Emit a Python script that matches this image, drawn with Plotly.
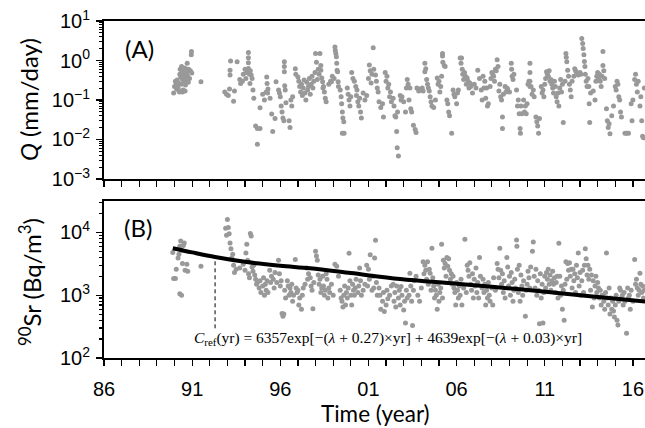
import plotly.graph_objects as go

# ---------------- DATA ----------------
# Panel A: discharge Q (mm/day)
q_year = [
 1989.95, 1990.00, 1990.05, 1990.10, 1990.12, 1990.15, 1990.20, 1990.22, 1990.25, 1990.30,
 1990.32, 1990.35, 1990.38, 1990.40, 1990.42, 1990.45, 1990.48, 1990.50, 1990.52, 1990.55,
 1990.58, 1990.60, 1990.62, 1990.65, 1990.68, 1990.70, 1990.72, 1990.75, 1990.78, 1990.80,
 1990.85, 1990.90, 1990.95, 1990.96, 1990.98, 1991.50, 1990.28, 1990.45, 1990.60, 1990.15,
 1992.85, 1992.95, 1993.05, 1993.15, 1993.15, 1993.18, 1993.12, 1993.35, 1993.40, 1993.55,
 1993.70, 1993.75, 1993.85, 1993.90, 1994.00, 1994.05, 1994.10, 1994.19, 1994.19, 1994.19,
 1994.19, 1994.25, 1994.28, 1994.30, 1994.35, 1994.40, 1994.45, 1994.50, 1994.60, 1994.70,
 1994.85, 1994.70, 1994.85, 1995.00, 1995.10, 1995.20, 1995.23, 1995.25, 1995.30, 1995.28,
 1995.42, 1995.51, 1995.57, 1995.70, 1995.76, 1995.90, 1995.95, 1996.00, 1996.05, 1996.10,
 1996.15, 1996.20, 1996.23, 1996.23, 1996.23, 1996.25, 1996.28, 1996.32, 1996.50, 1996.55,
 1996.60, 1996.65, 1996.70, 1996.85, 1996.88, 1997.00, 1997.05, 1997.10, 1997.15, 1997.20,
 1997.25, 1997.30, 1997.35, 1997.40, 1997.45, 1997.50, 1997.55, 1997.60, 1997.65, 1997.70,
 1997.75, 1997.80, 1997.85, 1997.90, 1997.97, 1998.00, 1998.05, 1998.10, 1998.15, 1998.20,
 1998.25, 1998.30, 1998.35, 1998.40, 1998.45, 1998.50, 1998.55, 1998.60, 1998.30, 1998.42,
 1998.75, 1998.85, 1998.90, 1998.95, 1999.05, 1999.10, 1999.12, 1999.15, 1999.18, 1999.20,
 1999.22, 1999.25, 1999.28, 1999.30, 1999.40, 1999.45, 1999.48, 1999.52, 1999.55, 1999.60,
 1999.52, 1999.62, 1999.80, 1999.85, 1999.90, 1999.95, 2000.00, 2000.05, 2000.12, 2000.20,
 2000.28, 2000.32, 2000.35, 2000.40, 2000.45, 2000.50, 2000.55, 2000.60, 2000.70, 2000.80,
 2000.90, 2001.00, 2001.05, 2001.10, 2001.15, 2001.20, 2001.27, 2001.30, 2001.40, 2001.45,
 2001.50, 2001.55, 2001.60, 2001.70, 2001.80, 2001.85,
 2001.95, 2002.00, 2002.05, 2002.10, 2002.15, 2002.20, 2002.25, 2002.30, 2002.40, 2002.45,
 2002.50, 2002.55, 2002.60, 2002.63, 2002.70, 2002.65, 2002.80, 2002.85, 2002.90, 2003.00,
 2003.10, 2003.15, 2003.20, 2003.25, 2003.30, 2003.35, 2003.40, 2003.45, 2003.55, 2003.65,
 2003.70, 2003.75, 2003.85, 2003.95, 2004.05, 2004.10, 2004.20, 2004.20, 2004.25, 2004.30,
 2004.35, 2004.40, 2004.45, 2004.50, 2004.55, 2004.60, 2004.70, 2004.80, 2004.90, 2004.95,
 2005.00, 2005.05, 2005.10, 2005.15, 2005.20, 2005.20, 2005.22, 2005.30, 2005.35, 2005.45,
 2005.50, 2005.55, 2005.60, 2005.72, 2005.80, 2005.85, 2005.90, 2006.00, 2006.05, 2006.10,
 2006.20, 2006.25, 2006.28, 2006.32, 2006.35, 2006.40, 2006.45, 2006.50, 2006.55, 2006.60,
 2006.65, 2006.70, 2006.75, 2006.80, 2006.90, 2007.00, 2007.10, 2007.20, 2007.30, 2007.40,
 2007.45, 2007.50, 2007.55, 2007.60, 2007.65, 2007.70, 2007.75, 2007.80, 2007.90, 2007.95,
 2008.00, 2008.05, 2008.10, 2008.15, 2008.20, 2008.25, 2008.30, 2008.35, 2008.40, 2008.45,
 2008.50, 2008.55, 2008.60, 2008.60, 2008.65, 2008.75, 2008.80, 2008.85, 2008.90, 2009.00,
 2009.10, 2009.12, 2009.15, 2009.20, 2009.25, 2009.40, 2009.45, 2009.50, 2009.55, 2009.60,
 2009.62, 2009.65, 2009.70, 2009.80, 2009.85, 2009.90, 2009.95, 2010.00, 2010.05, 2010.10,
 2010.16, 2010.16, 2010.16, 2010.16, 2010.22, 2010.28, 2010.35, 2010.40, 2010.50, 2010.55,
 2010.60, 2010.65, 2010.70, 2010.80, 2010.85, 2010.90, 2010.95, 2011.00, 2011.05, 2011.10,
 2011.15, 2011.20, 2011.25, 2011.30, 2011.35, 2011.40, 2011.45, 2011.50, 2011.55, 2011.60,
 2011.65, 2011.70, 2011.75, 2011.80, 2011.85, 2011.90, 2011.95, 2012.00, 2012.05,
 2012.15, 2012.20, 2012.22, 2012.25, 2012.30, 2012.35, 2012.40, 2012.45, 2012.50, 2012.55,
 2012.65, 2012.70, 2012.75, 2012.80, 2012.90, 2013.00, 2013.05, 2013.10, 2013.15, 2013.18,
 2013.22, 2013.25, 2013.28, 2013.30, 2013.35, 2013.40, 2013.45, 2013.50, 2013.52, 2013.55,
 2013.60, 2013.75, 2013.85, 2013.90, 2013.95, 2014.00, 2014.05, 2014.10, 2014.15, 2014.20,
 2014.25, 2014.30, 2014.30, 2014.35, 2014.40, 2014.50, 2014.55, 2014.60, 2014.65, 2014.70,
 2014.80, 2014.90, 2015.00, 2015.05, 2015.10, 2015.15, 2015.20, 2015.25, 2015.30, 2015.35,
 2015.55, 2015.65, 2015.75, 2015.90, 2015.95, 2016.00, 2016.10, 2016.15, 2016.20, 2016.25,
 2016.30, 2016.40, 2016.45, 2016.50, 2016.55, 2016.60, 2016.65,
]
q_value = [
 0.15, 0.22, 0.30, 0.26, 0.19, 0.32, 0.20, 0.27, 0.17, 0.45,
 0.60, 0.38, 0.25, 0.70, 0.50, 0.33, 0.18, 0.42, 0.55, 0.30,
 0.65, 0.38, 0.24, 0.45, 0.33, 0.50, 0.85, 0.40, 0.28, 0.60,
 0.35, 0.55, 1.40, 1.70, 0.48, 0.29, 0.16, 0.16, 0.17, 0.24,
 0.16, 0.14, 0.13, 0.57, 0.43, 0.97, 0.19, 0.093, 0.17, 0.93,
 0.33, 0.26, 0.30, 0.45, 0.60, 0.35, 0.50, 1.60, 1.18, 0.88,
 0.63, 0.45, 0.26, 0.55, 0.43, 0.35, 0.18, 0.11, 0.022, 0.019,
 0.019, 0.0076, 0.064, 0.14, 0.10, 0.16, 0.38, 0.26, 0.19, 0.15,
 0.11, 0.044, 0.016, 0.034, 0.29, 0.18, 0.15, 0.12, 0.07, 0.05,
 0.035, 0.030, 0.93, 0.70, 0.52, 0.23, 0.18, 0.085, 0.030, 0.020,
 0.10, 0.07, 0.12, 0.62, 0.45, 0.38, 0.30, 0.22, 0.16, 0.25,
 0.13, 0.20, 0.32, 0.15, 0.10, 0.28, 0.18, 0.22, 0.35, 0.14,
 0.25, 0.40, 0.20, 0.30, 0.50, 1.50, 0.90, 0.33, 0.60, 0.45,
 1.50, 0.57, 0.36, 0.29, 0.22, 0.16, 0.11, 0.09, 0.75, 0.20,
 0.25, 0.30, 0.29, 0.40, 0.35, 2.20, 1.80, 1.50, 1.25, 0.85,
 0.57, 0.52, 0.29, 0.22, 0.18, 0.12, 0.08, 0.05, 0.035, 0.028,
 0.0143, 0.0143, 0.20, 0.14, 0.10, 0.07, 0.12, 0.50, 0.35, 0.30,
 0.22, 0.13, 0.18, 0.09, 0.07, 0.11, 0.05, 0.035, 0.15, 0.10,
 0.13, 0.35, 0.77, 0.55, 0.27, 0.45, 2.10, 0.60, 0.43, 0.30,
 0.20, 0.16, 0.09, 0.065, 0.08, 0.037,
 0.50, 0.30, 0.40, 0.20, 0.25, 0.12, 0.16, 0.09, 0.11, 0.07,
 0.04, 0.037, 0.016, 0.0062, 0.0038, 0.05, 0.13, 0.10, 0.12, 0.09,
 0.05, 0.20, 0.33, 0.25, 0.10, 0.20, 0.06, 0.05, 0.023, 0.018,
 0.015, 0.20, 0.17, 0.19, 0.20, 0.17, 0.85, 0.52, 0.62, 0.33,
 0.25, 0.20, 0.17, 0.12, 0.09, 0.07, 0.065, 0.10, 0.36, 0.25,
 0.30, 0.16, 0.22, 0.40, 1.50, 1.30, 0.90, 0.75, 0.70, 0.10,
 0.08, 0.05, 0.04, 0.0143, 0.18, 0.14, 0.12, 0.08, 0.15, 0.18,
 1.15, 0.85, 1.15, 0.60, 0.45, 0.33, 0.50, 0.40, 0.25, 0.36,
 0.30, 0.20, 0.27, 0.22, 0.15, 0.25, 0.20, 0.57, 0.35, 0.18,
 0.10, 0.40, 0.20, 0.30, 0.11, 0.20, 0.07, 0.08, 0.22, 0.35,
 0.50, 0.45, 0.40, 0.30, 0.60, 0.55, 1.05, 0.70, 0.17, 0.25,
 0.12, 0.10, 0.037, 0.019, 0.14, 0.22, 0.16, 0.20, 0.19, 0.16,
 0.85, 0.60, 0.40, 0.33, 0.45, 0.18, 0.07, 0.10, 0.045, 0.019,
 0.0143, 0.07, 0.045, 0.10, 0.05, 0.07, 0.045, 0.08, 0.25, 0.30,
 0.85, 0.50, 0.30, 0.22, 0.22, 0.14, 0.18, 0.12, 0.037, 0.028,
 0.022, 0.0143, 0.034, 0.22, 0.15, 0.18, 0.12, 0.25, 0.35, 0.52,
 0.45, 0.40, 0.55, 0.30, 0.33, 0.25, 0.20, 0.15, 0.30, 0.22,
 0.12, 0.09, 0.15, 0.07, 0.20, 0.33, 0.16, 0.25, 0.027,
 0.30, 1.50, 1.20, 0.93, 0.57, 0.40, 0.25, 0.18, 0.12, 0.30,
 0.40, 0.62, 0.55, 0.50, 0.43, 0.50, 0.45, 3.60, 2.70, 2.00,
 1.40, 0.95, 0.70, 0.45, 0.30, 0.22, 0.35, 0.22, 0.08, 0.027,
 0.15, 0.17, 0.10, 0.30, 0.40, 0.50, 0.35, 0.45, 0.30, 0.22,
 0.40, 1.70, 0.75, 0.55, 0.35, 0.06, 0.03, 0.02, 0.025, 0.014,
 0.04, 0.07, 0.22, 0.18, 0.30, 0.25, 0.12, 0.10, 0.05, 0.037,
 0.0143, 0.0143, 0.0143, 0.08, 0.03, 0.10, 0.33, 0.45, 0.25, 0.16,
 0.30, 0.07, 0.12, 0.03, 0.012, 0.011, 0.20,
]

# Panel B: 90Sr concentration (Bq/m3)
sr_year = [
 1989.90, 1989.95, 1990.05, 1990.10, 1990.20, 1990.30, 1990.35, 1990.40, 1990.45, 1990.50,
 1990.30, 1990.40, 1990.60, 1990.75, 1990.70, 1991.50, 1990.25, 1990.55,
 1992.90, 1992.95, 1993.00, 1993.05, 1993.10, 1993.15, 1993.20, 1993.30, 1993.25, 1993.35,
 1993.40, 1993.50, 1993.70, 1993.90, 1994.00, 1994.05, 1994.10, 1994.15, 1994.20, 1994.25,
 1994.30, 1994.35, 1994.40, 1994.45, 1994.50, 1994.55, 1994.60, 1994.65, 1994.70, 1994.80,
 1994.85, 1994.90, 1995.00, 1995.05, 1995.10, 1995.15, 1995.20, 1995.25, 1995.30, 1995.40,
 1995.45, 1995.50, 1995.60, 1995.65, 1995.70, 1995.80, 1995.90, 1995.95, 1996.00, 1996.05,
 1996.10, 1996.15, 1996.20, 1996.25, 1996.30, 1996.40, 1996.45, 1996.50, 1996.55, 1996.60,
 1996.65, 1996.70, 1996.75, 1996.85, 1996.90, 1996.95, 1997.00, 1997.05, 1997.10, 1997.20,
 1997.25, 1997.30, 1997.40, 1997.50, 1997.55, 1997.60, 1997.70, 1997.75, 1997.80, 1997.85,
 1997.90, 1998.00, 1998.05, 1998.10, 1998.15, 1998.20, 1998.25, 1998.30, 1998.35, 1998.40,
 1998.45, 1998.50, 1998.55, 1998.60, 1998.65, 1998.70, 1998.75, 1998.80, 1998.90, 1999.00,
 1999.10, 1999.20, 1999.30, 1999.40, 1999.45, 1999.50, 1999.55, 1999.60, 1999.65, 1999.70,
 1999.75, 1999.80, 1999.85, 1999.90, 1999.95, 2000.00, 2000.05, 2000.10, 2000.15, 2000.20,
 2000.25, 2000.30, 2000.40, 2000.45, 2000.50, 2000.55, 2000.60, 2000.70, 2000.80, 2000.90,
 2000.95, 2001.00, 2001.05, 2001.10, 2001.20, 2001.25, 2001.30, 2001.35, 2001.40, 2001.45,
 2001.50, 2001.60, 2001.65, 2001.70, 2001.80, 2001.85, 2001.90, 2002.00, 2002.05, 2002.10,
 2002.20, 2002.30, 2002.40, 2002.45, 2002.50, 2002.55, 2002.60, 2002.70, 2002.75, 2002.80,
 2002.85, 2002.90, 2003.00, 2003.05, 2003.10, 2003.15, 2003.20, 2003.30, 2003.35, 2003.40,
 2003.45, 2003.50, 2003.55, 2003.60, 2003.70, 2003.80, 2003.90, 2004.00, 2004.10, 2004.15,
 2004.20, 2004.25, 2004.30, 2004.35, 2004.40, 2004.45, 2004.50, 2004.55, 2004.60, 2004.65,
 2004.70, 2004.75, 2004.80, 2004.85, 2004.90, 2004.95, 2005.00, 2005.05, 2005.10, 2005.15,
 2005.20, 2005.25, 2005.30, 2005.35, 2005.40, 2005.45, 2005.50, 2005.55, 2005.60, 2005.65,
 2005.70, 2005.75, 2005.80, 2005.85, 2005.90, 2005.95, 2006.00, 2006.05, 2006.10, 2006.15,
 2006.20, 2006.25, 2006.30, 2006.40, 2006.47, 2006.55, 2006.60, 2006.65, 2006.70, 2006.75,
 2006.80, 2006.85, 2006.90, 2006.95, 2007.00, 2007.05, 2007.10, 2007.15, 2007.20, 2007.25,
 2007.30, 2007.35, 2007.45, 2007.50, 2007.55, 2007.60, 2007.65, 2007.70, 2007.75, 2007.80,
 2007.85, 2007.90, 2008.00, 2008.05, 2008.10, 2008.20, 2008.30, 2008.35, 2008.40, 2008.45,
 2008.50, 2008.55, 2008.60, 2008.65, 2008.70, 2008.75, 2008.85, 2008.90, 2008.95, 2009.00,
 2009.05, 2009.10, 2009.15, 2009.20, 2009.25, 2009.30, 2009.35, 2009.40, 2009.42, 2009.45,
 2009.50, 2009.55, 2009.60, 2009.65, 2009.70, 2009.75, 2009.80, 2009.90, 2009.95, 2010.00,
 2010.05, 2010.10, 2010.15, 2010.20, 2010.30, 2010.35, 2010.40, 2010.45, 2010.50, 2010.55,
 2010.60, 2010.65, 2010.70, 2010.75, 2010.80, 2010.85, 2010.90, 2010.95, 2011.00, 2011.05,
 2011.10, 2011.15, 2011.20, 2011.25, 2011.30, 2011.35, 2011.40, 2011.45, 2011.50, 2011.55,
 2011.60, 2011.65, 2011.70, 2011.75, 2011.80, 2011.85, 2011.90, 2011.95, 2012.00, 2012.05,
 2012.10, 2012.15, 2012.20, 2012.25, 2012.30, 2012.35, 2012.40, 2012.45, 2012.50, 2012.55,
 2012.60, 2012.65, 2012.70, 2012.75, 2012.80, 2012.85, 2012.90, 2012.95, 2013.00, 2013.05,
 2013.10, 2013.15, 2013.20, 2013.25, 2013.30, 2013.35, 2013.40, 2013.45, 2013.50, 2013.55,
 2013.60, 2013.65, 2013.70, 2013.75, 2013.80, 2013.85, 2013.90, 2013.95, 2014.00, 2014.05,
 2014.10, 2014.15, 2014.20, 2014.25, 2014.30, 2014.35, 2014.40, 2014.45, 2014.50, 2014.55,
 2014.60, 2014.65, 2014.70, 2014.75, 2014.80, 2014.85, 2014.90, 2014.95, 2015.00, 2015.05,
 2015.10, 2015.15, 2015.20, 2015.25, 2015.30, 2015.35, 2015.40, 2015.45, 2015.50, 2015.55,
 2015.64, 2015.70, 2015.75, 2015.80, 2015.85, 2015.90, 2016.00, 2016.10, 2016.15, 2016.20,
 2016.25, 2016.30, 2016.35, 2016.40, 2016.45, 2016.50, 2016.55, 2016.60, 2016.65,
]
sr_value = [
 4800, 1850, 1850, 2600, 3900, 6000, 7300, 5200, 3200, 6200,
 1050, 1000, 2500, 2400, 3100, 2900, 4500, 6800,
 11600, 9000, 16000, 12000, 9500, 6800, 5500, 4500, 3900, 3000,
 2300, 2600, 2700, 3100, 2500, 4700, 6500, 3600, 2200, 1900,
 9600, 8800, 2800, 2400, 3000, 2100, 1800, 1500, 1600, 1300,
 1700, 1100, 1400, 1900, 1000, 1500, 1200, 1700, 1100, 2500,
 1600, 2000, 1800, 1300, 2300, 1600, 3600, 2200, 1400, 1700,
 510, 460, 500, 1200, 900, 1700, 1400, 1000, 1300, 1100,
 1500, 800, 1000, 3700, 1300, 1100, 1200, 700, 900, 600,
 1000, 1300, 1500, 2700, 1800, 2200, 1900, 1400, 1200, 610,
 1600, 5000, 4200, 3600, 2100, 1500, 1800, 1100, 1300, 2000,
 1400, 1000, 1200, 2200, 1800, 900, 1300, 1100, 1500, 1000,
 3100, 2900, 2000, 1200, 900, 800, 650, 1000, 1400, 700,
 1100, 900, 1300, 4660, 1700, 1000, 700, 1500, 1200, 1000,
 1300, 1800, 1100, 1400, 2700, 1700, 1000, 1200, 1500, 3000,
 1400, 2600, 1800, 4400, 1200, 2000, 1300, 3900, 7500, 1600,
 1000, 1300, 1000, 600, 800, 1100, 550, 700, 1200, 880,
 1000, 1400, 1500, 800, 1100, 650, 1400, 900, 1200, 700,
 1370, 1000, 580, 800, 360, 1200, 900, 1000, 2230, 1400,
 800, 330, 1200, 1700, 2000, 1000, 800, 1300, 3400, 2200,
 3000, 2500, 1800, 3400, 1500, 2600, 2230, 1200, 5570, 1900,
 1400, 900, 1200, 1000, 600, 1500, 800, 1100, 1300, 6500,
 900, 3600, 2700, 3200, 2000, 4000, 2900, 3800, 2500, 1800,
 2200, 1500, 2000, 1300, 1100, 700, 1600, 1200, 900, 1400,
 1000, 1800, 700, 1300, 7800, 1100, 3000, 2500, 2000, 3300,
 1500, 1200, 2200, 900, 1800, 1400, 2700, 1100, 1600, 900,
 4000, 2000, 1300, 1800, 1100, 1500, 700, 1200, 900, 1600,
 1000, 800, 1300, 700, 1900, 1200, 3200, 2600, 1900, 5570,
 2500, 1500, 2200, 1100, 1700, 900, 4000, 2800, 1400, 2000,
 1000, 2300, 1600, 800, 1200, 1800, 1300, 7600, 6000, 2600,
 1100, 3000, 800, 2100, 1400, 1000, 1700, 460, 1200, 1500,
 2400, 1900, 1300, 2800, 5000, 7000, 2000, 1300, 2600, 1000,
 1700, 1200, 350, 2200, 900, 1500, 360, 1100, 2000, 1300,
 2300, 1800, 2600, 1500, 2100, 1200, 1700, 2400, 1500, 1900,
 1100, 1600, 2000, 900, 6700, 2000, 1000, 1400, 600, 1200,
 400, 1500, 3400, 1800, 3200, 2500, 3300, 2000, 2600, 1300,
 2600, 1700, 2200, 1100, 3000, 1900, 4700, 1400, 2300, 1000,
 1700, 2500, 1100, 3000, 5500, 3800, 2100, 3000, 1800, 2600,
 1200, 2100, 650, 1700, 900, 1400, 2000, 1100, 1600, 1300,
 900, 1200, 700, 1000, 1000, 800, 600, 1100, 4700, 900,
 700, 1300, 500, 900, 600, 800, 560, 450, 700, 1000,
 400, 335, 800, 1300, 1200, 900, 1000, 700, 1100, 800,
 247, 1300, 900, 1000, 600, 1200, 800, 3700, 1500, 1800,
 1300, 1000, 1200, 2230, 1500, 1100, 1400, 900, 1200,
]

# Reference curve C_ref
fit_year = [1989.9, 1991.0, 1992.3, 1994.0, 1996.0, 1997.7, 2000.0, 2002.8, 2006.0, 2009.6, 2013.0, 2016.7]
fit_value = [5600, 4800, 4050, 3400, 2950, 2680, 2250, 1810, 1520, 1240, 1000, 790]

# Dashed marker line
ref_line_year = [1992.3, 1992.3]
ref_line_value = [297, 4050]

# Axis ticks
x_label_years = [1986, 1991, 1996, 2001, 2006, 2011, 2016]
x_tick_labels = ["86", "91", "96", "01", "06", "11", "16"]
q_tick_vals = [1e-3, 1e-2, 1e-1, 1e0, 1e1]
q_tick_text = ["10<sup>−3</sup>", "10<sup>−2</sup>", "10<sup>−1</sup>", "10<sup>0</sup>", "10<sup>1</sup>"]
sr_tick_vals = [1e2, 1e3, 1e4]
sr_tick_text = ["10<sup>2</sup>", "10<sup>3</sup>", "10<sup>4</sup>"]

assert len(q_year) == len(q_value), (len(q_year), len(q_value))
assert len(sr_year) == len(sr_value), (len(sr_year), len(sr_value))

# ---------------- FIGURE ----------------
W, H = 645, 428
L, R, T, B = 104, 0, 21, 70
PX_PER_YEAR = 17.63
TICK_FONT = dict(family="Liberation Sans, Arial, sans-serif", size=20, color="black")
TITLE_FONT = "Lato, Open Sans, sans-serif"
DOT = "#999999"

fig = go.Figure()
fig.add_trace(go.Scatter(x=q_year, y=q_value, mode="markers",
                         marker=dict(color=DOT, size=5), xaxis="x", yaxis="y",
                         showlegend=False, hoverinfo="skip"))
fig.add_trace(go.Scatter(x=sr_year, y=sr_value, mode="markers",
                         marker=dict(color=DOT, size=5), xaxis="x2", yaxis="y2",
                         showlegend=False, hoverinfo="skip"))
fig.add_trace(go.Scatter(x=fit_year, y=fit_value, mode="lines",
                         line=dict(color="black", width=4, shape="spline"),
                         xaxis="x2", yaxis="y2", showlegend=False, hoverinfo="skip"))
fig.add_trace(go.Scatter(x=ref_line_year, y=ref_line_value, mode="lines",
                         line=dict(color="black", width=1, dash="4px,3px"),
                         xaxis="x2", yaxis="y2", showlegend=False, hoverinfo="skip"))

def x_axis(show_labels, anchor):
    return dict(range=[1986, 1986 + (W - L) / PX_PER_YEAR], showline=True, linecolor="black",
                linewidth=2, mirror=True, ticks="outside", ticklen=6, tickwidth=1.2,
                tickcolor="black", tickmode="array", tickvals=x_label_years,
                ticktext=x_tick_labels, showticklabels=show_labels, tickfont=TICK_FONT,
                ticklabelstandoff=6, showgrid=False, zeroline=False, anchor=anchor,
                automargin=False,
                minor=dict(tickmode="linear", tick0=1986, dtick=1, ticks="outside",
                           ticklen=6, tickwidth=1.2, tickcolor="black", showgrid=False))

def minor_log(lo, hi):
    vals = []
    for d in range(lo, hi):
        for m in range(2, 10):
            vals.append(m * 10 ** d)
    return vals

def y_axis(rng, tv, tt, domain, anchor, mlo, mhi):
    return dict(type="log", range=rng, domain=domain, anchor=anchor, showline=True,
                linecolor="black", linewidth=2, mirror=False, ticks="outside", ticklen=6,
                tickwidth=1.2, tickcolor="black", tickmode="array", tickvals=tv, ticktext=tt,
                tickfont=TICK_FONT, ticklabelstandoff=2, showgrid=False, zeroline=False,
                automargin=False,
                minor=dict(tickmode="array", tickvals=minor_log(mlo, mhi), ticks="outside",
                           ticklen=3, tickcolor="black", showgrid=False))

fig.update_layout(
    width=W, height=H, margin=dict(l=L, r=R, t=T, b=B, autoexpand=False),
    paper_bgcolor="white", plot_bgcolor="white",
    xaxis=x_axis(False, "y"),
    xaxis2=dict(x_axis(True, "y2"), matches="x"),
    yaxis=y_axis([-3, 1], q_tick_vals, q_tick_text, [0.5312, 1.0], "x", -3, 1),
    yaxis2=y_axis([2, 4.5], sr_tick_vals, sr_tick_text, [0.0, 0.4659], "x2", 2, 5),
)

ann = [
    dict(text="<i>Q</i> (mm/day)", x=(28 - L) / (W - L), y=(358 - 100) / 337, textangle=-90,
         font=dict(family=TITLE_FONT, size=24, color="black")),
    dict(text="<sup>90</sup>Sr (Bq/m<sup>3</sup>)", x=(30 - L) / (W - L), y=(358 - 282) / 337,
         textangle=-90, font=dict(family=TITLE_FONT, size=24, color="black")),
    dict(text="Time (year)", x=(375 - L) / (W - L), y=(358 - 427.5) / 337,
         font=dict(family=TITLE_FONT, size=22.5, color="black"), yanchor="bottom", borderpad=0),
    dict(text="(A)", x=(139 - L) / (W - L), y=(358 - 48) / 337,
         font=dict(family=TITLE_FONT, size=24, color="black")),
    dict(text="(B)", x=(138 - L) / (W - L), y=(358 - 227) / 337,
         font=dict(family=TITLE_FONT, size=24, color="black")),
    dict(text="<i>C</i><sub>ref</sub>(yr) = 6357exp[−(<i>λ</i> + 0.27)×yr] + 4639exp[−(<i>λ</i> + 0.03)×yr]",
         x=(388 - L) / (W - L), y=(358 - 338) / 337,
         font=dict(family="Liberation Serif, serif", size=15.5, color="black")),
]
for a in ann:
    a.setdefault("yanchor", "middle")
    a.update(xref="paper", yref="paper", showarrow=False, xanchor="center")
fig.update_layout(annotations=ann)

fig.write_html("out.html", config={"displayModeBar": False, "staticPlot": True},
               post_script="document.body.style.margin='0';document.body.style.padding='0';")
